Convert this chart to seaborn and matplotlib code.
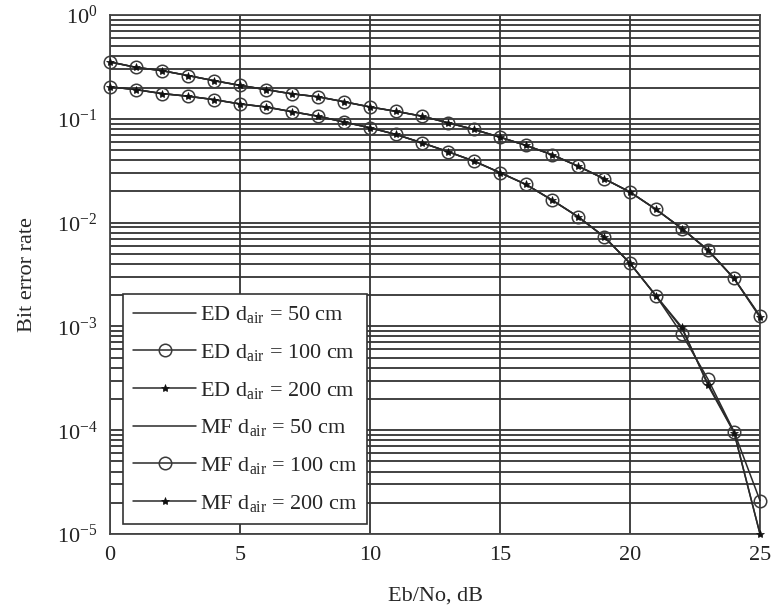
import numpy as np
import pandas as pd
import matplotlib
matplotlib.use("Agg")
import matplotlib.pyplot as plt
import seaborn as sns

# Eb/No axis (dB)
ebno = list(range(0, 26))

# Energy detection (ED) receiver BER
ed_50 = [0.353, 0.313, 0.291, 0.261, 0.233, 0.210, 0.191, 0.174, 0.163, 0.146,
         0.130, 0.118, 0.106, 0.0916, 0.0789, 0.0665, 0.0554, 0.0451, 0.035, 0.0265,
         0.0197, 0.0134, 0.00875, 0.00545, 0.0029, 0.00125]
ed_100 = [0.353, 0.313, 0.291, 0.261, 0.233, 0.210, 0.191, 0.174, 0.163, 0.146,
          0.130, 0.118, 0.106, 0.0916, 0.0789, 0.0665, 0.0554, 0.0451, 0.035, 0.0265,
          0.0197, 0.0134, 0.00875, 0.00545, 0.0029, 0.00126]
ed_200 = [0.353, 0.313, 0.291, 0.261, 0.233, 0.210, 0.191, 0.174, 0.163, 0.146,
          0.130, 0.118, 0.106, 0.0916, 0.0789, 0.0665, 0.0554, 0.0451, 0.035, 0.0265,
          0.0197, 0.0134, 0.00875, 0.00540, 0.0029, 0.00122]

# Matched filter (MF) receiver BER
mf_50 = [0.203, 0.191, 0.175, 0.165, 0.153, 0.139, 0.130, 0.117, 0.106, 0.093,
         0.082, 0.0706, 0.0587, 0.0482, 0.0391, 0.0303, 0.0233, 0.0165, 0.0114, 0.00733,
         0.00406, 0.00197, 0.00095, 0.00028, 9.6e-5, 1.0e-5]
mf_100 = [0.203, 0.191, 0.175, 0.165, 0.153, 0.139, 0.130, 0.117, 0.106, 0.093,
          0.082, 0.0706, 0.0587, 0.0482, 0.0391, 0.0303, 0.0233, 0.0165, 0.0114, 0.00733,
          0.00406, 0.00197, 0.00084, 0.00031, 9.7e-5, 2.1e-5]
mf_200 = [0.203, 0.191, 0.175, 0.165, 0.153, 0.139, 0.130, 0.117, 0.106, 0.093,
          0.082, 0.0706, 0.0587, 0.0482, 0.0391, 0.0303, 0.0233, 0.0165, 0.0114, 0.00733,
          0.00406, 0.00197, 0.00098, 0.00027, 9.5e-5, 1.0e-5]

labels = [r"ED d$_{\rm air}$ = 50 cm", r"ED d$_{\rm air}$ = 100 cm", r"ED d$_{\rm air}$ = 200 cm",
          r"MF d$_{\rm air}$ = 50 cm", r"MF d$_{\rm air}$ = 100 cm", r"MF d$_{\rm air}$ = 200 cm"]
series = [ed_50, ed_100, ed_200, mf_50, mf_100, mf_200]

sns.set_style("white")
plt.rcParams["font.family"] = ["Liberation Serif", "DejaVu Serif"]
plt.rcParams["mathtext.fontset"] = "custom"
plt.rcParams["mathtext.rm"] = "Liberation Serif"
plt.rcParams["mathtext.it"] = "Liberation Serif:italic"
plt.rcParams["mathtext.bf"] = "Liberation Serif:bold"

fig = plt.figure(figsize=(7.72, 6.10), dpi=100)
ax = fig.add_axes([110 / 772, 1 - 534 / 610, 650 / 772, 519 / 610])

line_color = "#2a2a2a"
styles = [
    dict(marker=None),
    dict(marker="o", markersize=9, markerfacecolor="none", markeredgecolor="#3a3a3a",
         markeredgewidth=1.1),
    dict(marker="*", markersize=6, markerfacecolor="#111111", markeredgecolor="#111111",
         markeredgewidth=0.5),
]

for i, (vals, lab) in enumerate(zip(series, labels)):
    df = pd.DataFrame({"Eb/No": ebno, "BER": vals})
    st = styles[i % 3]
    kw = {k: v for k, v in st.items() if v is not None}
    sns.lineplot(data=df, x="Eb/No", y="BER", ax=ax, color=line_color,
                 linewidth=1.1, label=lab, clip_on=False, zorder=3, **kw)

ax.set_yscale("log")
ax.set_xlim(0, 25)
ax.set_ylim(1e-5, 1)
ax.set_xticks([0, 5, 10, 15, 20, 25])
ax.set_yticks([1e0, 1e-1, 1e-2, 1e-3, 1e-4, 1e-5])

ax.grid(True, which="major", axis="both", color="#333333", linewidth=1.3)
ax.grid(True, which="minor", axis="y", color="#333333", linewidth=1.3)
ax.set_axisbelow(True)
ax.tick_params(axis="both", which="both", length=0, labelsize=16, pad=9,
               colors="#222222")
for sp in ax.spines.values():
    sp.set_color("#444444")
    sp.set_linewidth(1.3)

ax.set_xlabel("Eb/No, dB", fontsize=16, labelpad=15)
ax.set_ylabel("Bit error rate", fontsize=16, labelpad=14)

leg = ax.legend(loc="lower left", bbox_to_anchor=(0.02, 0.02), borderaxespad=0,
                fontsize=16, frameon=True, fancybox=False, handlelength=2.85,
                labelspacing=0.75, handletextpad=0.15, borderpad=0.45)
leg.get_frame().set_edgecolor("#333333")
leg.get_frame().set_linewidth(1.2)
leg.get_frame().set_alpha(1)
leg.set_zorder(5)

fig.savefig("out.png", dpi=100, facecolor="white")
